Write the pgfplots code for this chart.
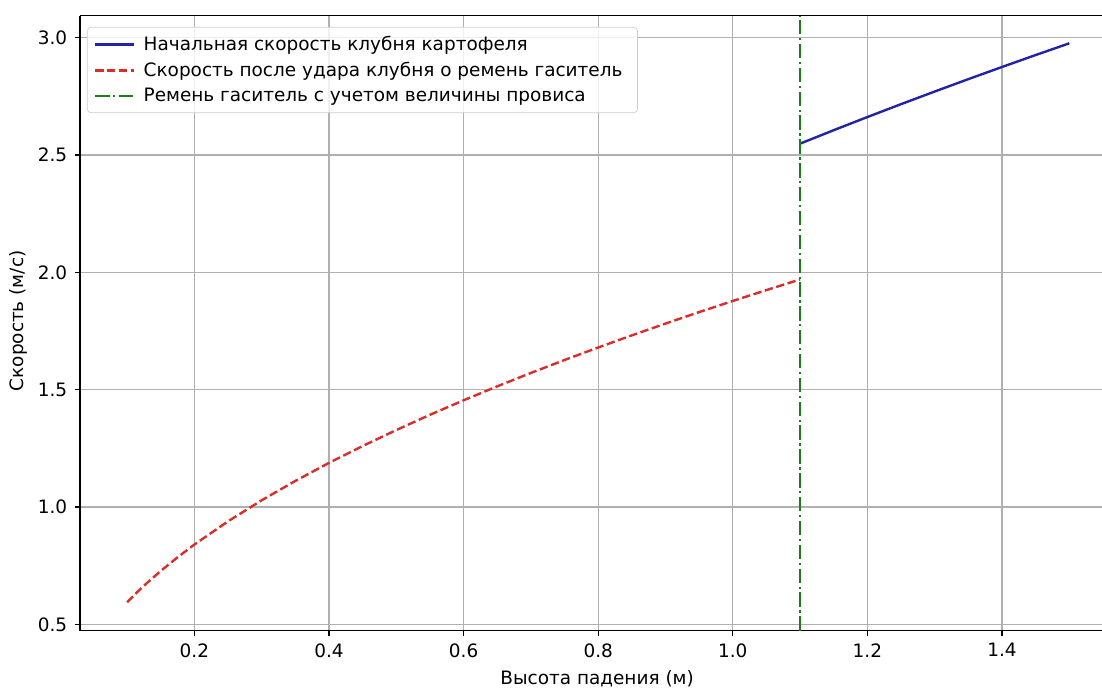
\documentclass[border=0pt]{standalone}
\usepackage{fontspec}
\setmainfont{DejaVu Sans}
\usepackage{pgfplots}
\pgfplotsset{compat=1.18}
\definecolor{mblue}{RGB}{35,35,165}
\definecolor{mred}{RGB}{218,45,40}
\definecolor{mgreen}{RGB}{25,128,25}
\definecolor{mgrid}{RGB}{176,176,176}
\definecolor{mleg}{RGB}{204,204,204}
\begin{document}
\begin{tikzpicture}[font=\fontsize{12.3pt}{14.8pt}\selectfont]
\begin{axis}[
  at={(0,0)}, anchor=south west,
  scale only axis, width=681.33pt, height=410pt,
  xmin=0.03, xmax=1.5486, ymin=0.4727, ymax=3.0938,
  axis x line*=box, axis y line*=left,
  axis line style={-, line width=0.8pt, black},
  xtick={0.2,0.4,0.6,0.8,1.0,1.2,1.4},
  ytick={0.5,1.0,1.5,2.0,2.5,3.0},
  xtick pos=left, ytick pos=left,
  tick align=outside, major tick length=3.5pt,
  every tick/.style={black, line width=0.8pt},
  /pgf/number format/.cd, fixed, fixed zerofill, precision=1, assume math mode=true,
  /pgfplots/.cd,
  xticklabel style={yshift=-1.5pt},
  yticklabel style={xshift=-1.5pt},
  grid=major,
  major grid style={color=mgrid, line width=0.8pt},
  xlabel={Высота падения (м)},
  ylabel={Скорость (м/с)},
  every axis x label/.append style={at={(ticklabel cs:0.506)}, yshift=-2pt},
  every axis y label/.append style={xshift=1.5pt},
  legend cell align=left,
  legend image code/.code={\draw[#1] (0pt,0pt) -- (26pt,0pt);},
  legend style={at={(axis description cs:0,1)}, anchor=north west,
    xshift=4.67pt, yshift=-7.5pt,
    draw=mleg, fill=white, fill opacity=0.8, text opacity=1,
    rounded corners=2.5pt, inner xsep=4.5pt, inner ysep=3.5pt,
    row sep=1.2pt,
    nodes={inner ysep=2.5pt, inner xsep=5.5pt}},
]
\addplot[mblue, line width=1.6pt] coordinates {
(1.10,2.5486) (1.15,2.6059) (1.20,2.6619) (1.25,2.7168) (1.30,2.7706)
(1.35,2.8234) (1.40,2.8752) (1.45,2.9261) (1.50,2.9761)};
\addlegendentry{Начальная скорость клубня картофеля}
\addplot[mred, line width=1.6pt, dash pattern=on 5.55pt off 2.4pt] coordinates {
(0.10,0.5939) (0.11,0.6229) (0.12,0.6506) (0.13,0.6771) (0.15,0.7273)
(0.175,0.7856) (0.20,0.8399) (0.25,0.9390) (0.30,1.0286) (0.35,1.1110)
(0.40,1.1878) (0.45,1.2598) (0.50,1.3279) (0.55,1.3928) (0.60,1.4547)
(0.65,1.5141) (0.70,1.5713) (0.75,1.6264) (0.80,1.6797) (0.85,1.7314)
(0.90,1.7816) (0.95,1.8305) (1.00,1.8780) (1.05,1.9244) (1.10,1.9697)};
\addlegendentry{Скорость после удара клубня о ремень гаситель}
\addplot[mgreen, line width=1.6pt, dash pattern=on 9.6pt off 2.4pt on 1.5pt off 2.4pt] coordinates {
(1.1,0.4727) (1.1,3.0938)};
\addlegendentry{Ремень гаситель с учетом величины провиса}
\end{axis}
\pgfresetboundingbox
\path (-53.33pt,-38.87pt) rectangle (681.33pt,420.47pt);
\end{tikzpicture}
\end{document}
